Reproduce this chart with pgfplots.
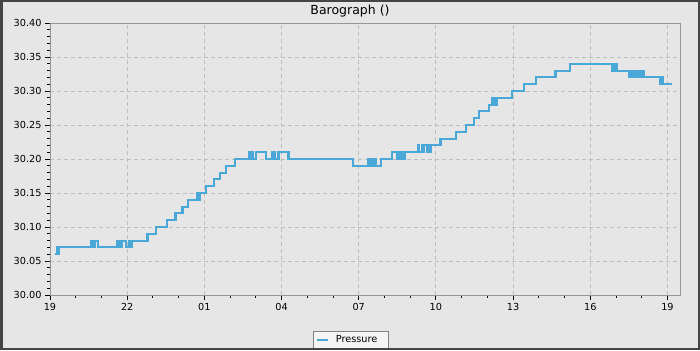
\documentclass[border=0pt]{standalone}
\usepackage{fontspec}
\setmainfont{DejaVu Sans}
\usepackage{pgfplots}
\pgfplotsset{compat=1.18}
\definecolor{bg}{RGB}{230,230,230}
\definecolor{outerframe}{RGB}{68,68,68}
\definecolor{axisgray}{RGB}{150,150,150}
\definecolor{gridgray}{RGB}{190,190,190}
\definecolor{pres}{RGB}{74,168,216}
\definecolor{legfill}{RGB}{245,245,245}
\definecolor{legdraw}{RGB}{130,130,130}
\begin{document}
\begin{tikzpicture}[x=1bp,y=1bp]
\fill[bg] (0,0) rectangle (700,350);
\node[font=\fontsize{12.5bp}{14bp}\selectfont] at (350,338.5) {Barograph ()};
\begin{axis}[
  at={(50bp,55bp)}, anchor=south west, scale only axis,
  width=630.3bp, height=272bp,
  xmin=0, xmax=24.5, ymin=30, ymax=30.4,
  xtick={0,3,6,9,12,15,18,21,24},
  xticklabels={19,22,01,04,07,10,13,16,19},
  ytick={30,30.05,30.1,30.15,30.2,30.25,30.3,30.35,30.4},
  yticklabels={30.00,30.05,30.10,30.15,30.20,30.25,30.30,30.35,30.40},
  minor x tick num=2, minor y tick num=4,
  tick align=outside, xtick pos=left, ytick pos=left,
  major tick length=5bp, minor tick length=3bp,
  tick style={black, line width=0.9bp},
  axis line style={axisgray, line width=1bp},
  grid=major,
  major grid style={gridgray, dash pattern=on 4bp off 3bp, line width=1bp},
  tick label style={font=\fontsize{9.7bp}{11bp}\selectfont},
  legend style={at={(0.4776,-0.131)}, anchor=north, draw=legdraw, fill=legfill,
    font=\fontsize{9.7bp}{11bp}\selectfont, inner xsep=2bp, inner ysep=2.5bp, line width=0.8bp,
    /tikz/every odd column/.append style={column sep=5bp}},
  legend image code/.code={\draw[#1] (0bp,0bp) -- (11bp,0bp);},
]
\addplot[const plot, color=pres, line width=2.1bp] coordinates {
(0.19,30.06)
(0.26,30.07)(0.30,30.06)(0.34,30.07)
(1.59,30.08)(1.64,30.07)(1.68,30.08)(1.72,30.07)(1.76,30.08)(1.85,30.07)
(2.60,30.08)(2.66,30.07)(2.70,30.08)(2.76,30.07)(2.80,30.08)(2.95,30.07)(3.08,30.08)(3.14,30.07)(3.18,30.08)
(3.79,30.09)
(4.12,30.10)
(4.54,30.11)
(4.88,30.12)
(5.15,30.13)
(5.37,30.14)
(5.71,30.15)(5.76,30.14)(5.82,30.15)
(6.06,30.16)
(6.38,30.17)
(6.60,30.18)
(6.85,30.19)
(7.18,30.20)
(7.74,30.21)(7.82,30.20)(7.86,30.21)(7.90,30.20)
(8.00,30.21)
(8.39,30.20)
(8.65,30.21)
(8.75,30.20)
(8.88,30.21)
(9.27,30.20)
(11.79,30.19)
(12.38,30.20)(12.44,30.19)(12.50,30.20)(12.55,30.19)(12.62,30.20)(12.68,30.19)
(12.85,30.20)
(13.28,30.21)
(13.50,30.20)(13.56,30.21)(13.62,30.20)(13.70,30.21)(13.76,30.20)(13.80,30.21)
(14.30,30.22)(14.36,30.21)(14.45,30.22)(14.49,30.21)
(14.54,30.22)
(14.64,30.21)(14.70,30.22)(14.75,30.21)(14.82,30.22)
(15.18,30.23)
(15.78,30.24)
(16.17,30.25)
(16.48,30.26)
(16.67,30.27)
(17.06,30.28)
(17.17,30.29)(17.22,30.28)(17.28,30.29)(17.33,30.28)
(17.39,30.29)
(17.97,30.30)
(18.42,30.31)
(18.90,30.32)
(19.65,30.33)
(20.20,30.34)
(21.85,30.33)(21.90,30.34)(21.95,30.33)(22.01,30.34)(22.05,30.33)
(22.50,30.32)(22.56,30.33)(22.60,30.32)(22.67,30.33)(22.72,30.32)(22.76,30.33)(22.85,30.32)(22.88,30.33)(22.95,30.32)(23.00,30.33)
(23.08,30.32)
(23.73,30.31)(23.80,30.32)(23.84,30.31)
(24.18,30.31)
};
\addlegendentry{Pressure\hspace*{7bp}\mbox{}}
\end{axis}
\draw[outerframe, line width=2.5bp] (1.25,1.25) rectangle (698.75,348.75);
\pgfresetboundingbox
\path[use as bounding box] (0,0) rectangle (700,350);
\end{tikzpicture}
\end{document}
